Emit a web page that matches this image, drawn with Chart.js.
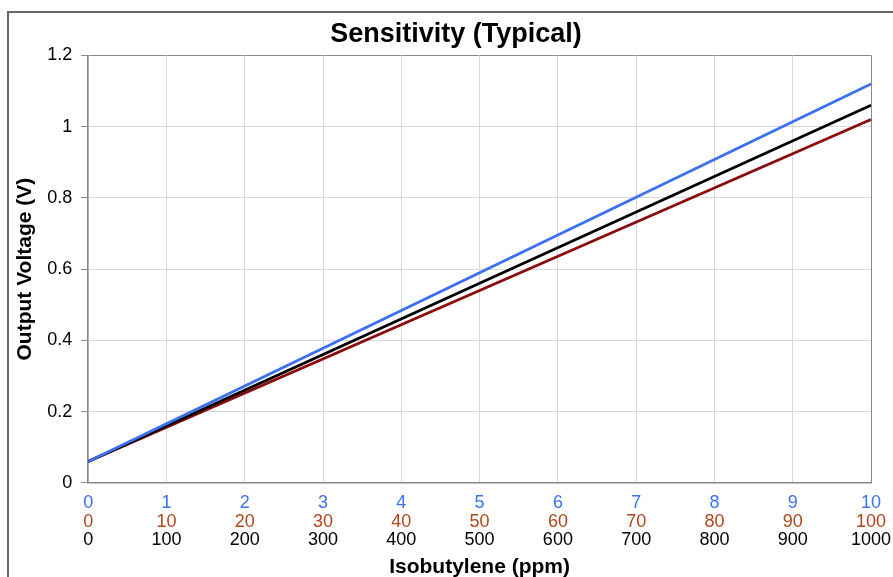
<!DOCTYPE html>
<html>
<head>
<meta charset="utf-8">
<script src="https://cdn.jsdelivr.net/npm/chart.js@4/dist/chart.umd.min.js"></script>
<style>
  html, body { margin: 0; padding: 0; background: #fff; overflow: hidden; width: 893px; height: 577px; }
  #frame { position: absolute; left: 7px; top: 11px; width: 920px; height: 620px; border-left: 2px solid #666; border-top: 2px solid #666; }
  #wrap { position: absolute; left: 0px; top: 0px; width: 894px; height: 600px; }
</style>
</head>
<body>
<div id="frame"><div id="wrap"><canvas id="c"></canvas></div></div>
<script>
// Concentration on the primary (blue) scale, 0–10
const xValues = [0, 5, 10];
// Output voltage (V) for each response curve
const blueSeries = [0.06, 0.59, 1.12];
const blackSeries = [0.06, 0.56, 1.06];
const redSeries = [0.06, 0.54, 1.02];
// Axis ranges (tick labels) for the three stacked x scales
const blueAxis = { min: 0, max: 10, step: 1 };
const redAxis = { min: 0, max: 100, step: 10 };
const blackAxis = { min: 0, max: 1000, step: 100 };

const pts = arr => xValues.map((x, i) => ({ x: x, y: arr[i] }));
const FONT = "'Liberation Sans', Arial, sans-serif";
const GRID = '#d8d8d8';
const AXIS = '#888888';
const plain = v => String(Math.round(v * 10) / 10);

new Chart(document.getElementById('c'), {
  type: 'line',
  data: {
    datasets: [
      { label: 'blue', data: pts(blueSeries), borderColor: '#3d6ff2', borderWidth: 2.8, pointRadius: 0, xAxisID: 'x' },
      { label: 'black', data: pts(blackSeries), borderColor: '#000000', borderWidth: 2.8, pointRadius: 0, xAxisID: 'x' },
      { label: 'red', data: pts(redSeries), borderColor: '#8b0a0a', borderWidth: 2.8, pointRadius: 0, xAxisID: 'x' }
    ]
  },
  options: {
    responsive: true,
    maintainAspectRatio: false,
    animation: false,
    layout: { padding: { left: 0, right: 0, top: 0, bottom: 31 } },
    plugins: {
      legend: { display: false },
      tooltip: { enabled: false },
      title: {
        display: true,
        text: 'Sensitivity (Typical)',
        color: '#000',
        font: { family: FONT, size: 27, weight: 'bold' },
        padding: { top: 5, bottom: 5 }
      }
    },
    scales: {
      y: {
        min: 0, max: 1.2,
        ticks: { stepSize: 0.2, color: '#000', font: { family: FONT, size: 18 }, padding: 9, callback: plain },
        grid: { color: ctx => ctx.index === 6 ? AXIS : GRID, tickColor: AXIS, tickLength: 7 },
        border: { color: AXIS, width: 1.5 },
        title: { display: true, text: 'Output Voltage (V)', color: '#000', font: { family: FONT, size: 21, weight: 'bold' }, padding: { top: 4, bottom: 0 } }
      },
      yR: {
        position: 'right',
        min: 0, max: 1.2,
        ticks: { display: false },
        grid: { display: false, drawTicks: false },
        border: { display: false },
        afterFit: s => { s.width = 32; }
      },
      x: {
        type: 'linear', position: 'bottom', weight: 0,
        min: blueAxis.min, max: blueAxis.max,
        ticks: { stepSize: blueAxis.step, color: '#3b73f0', font: { family: FONT, size: 18, lineHeight: 1 }, padding: 1, maxRotation: 0, callback: plain },
        grid: { color: ctx => ctx.index === 10 ? AXIS : GRID, tickColor: 'rgba(0,0,0,0)', tickLength: 10.5 },
        border: { color: AXIS, width: 1.5 }
      },
      x2: {
        type: 'linear', position: 'bottom', weight: 1,
        min: redAxis.min, max: redAxis.max,
        ticks: { stepSize: redAxis.step, color: '#b0461c', font: { family: FONT, size: 18, lineHeight: 1 }, padding: 0, maxRotation: 0, callback: plain },
        grid: { display: false, drawTicks: false },
        border: { display: false }
      },
      x3: {
        type: 'linear', position: 'bottom', weight: 2,
        min: blackAxis.min, max: blackAxis.max,
        ticks: { stepSize: blackAxis.step, color: '#000', font: { family: FONT, size: 18, lineHeight: 1 }, padding: 0, maxRotation: 0, callback: plain },
        grid: { display: false, drawTicks: false },
        border: { display: false },
        title: { display: true, text: 'Isobutylene (ppm)', color: '#000', font: { family: FONT, size: 21, weight: 'bold' }, padding: { top: 5.5, bottom: 2 } }
      }
    }
  }
});
</script>
</body>
</html>
